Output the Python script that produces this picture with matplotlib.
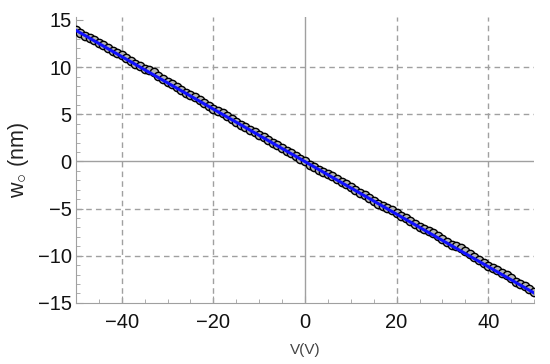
import numpy as np
import matplotlib
matplotlib.use("Agg")
import matplotlib.pyplot as plt

plt.rcParams['font.family'] = ['Liberation Sans', 'DejaVu Sans']

# measured points
volts = list(range(-50, 51))
w0 = [13.95, 13.6, 13.3, 13.1, 12.85, 12.6, 12.35, 12.0, 11.7, 11.5,
      11.25, 10.95, 10.6, 10.35, 10.1, 9.8, 9.65, 9.45, 9.05, 8.75,
      8.45, 8.2, 7.9, 7.6, 7.3, 7.05, 6.8, 6.5, 6.2, 5.9,
      5.55, 5.3, 5.1, 4.8, 4.5, 4.2, 3.9, 3.65, 3.35, 3.1,
      2.8, 2.55, 2.3, 1.95, 1.7, 1.45, 1.15, 0.85, 0.6, 0.3,
      0.0,
      -0.35, -0.6, -0.9, -1.15, -1.3, -1.5, -1.85, -2.15, -2.4, -2.75,
      -3.05, -3.3, -3.55, -3.9, -4.2, -4.5, -4.7, -4.95, -5.2, -5.45,
      -5.75, -6.0, -6.3, -6.6, -6.95, -7.15, -7.35, -7.6, -7.9, -8.25,
      -8.5, -8.85, -9.0, -9.2, -9.5, -9.8, -10.15, -10.5, -10.8, -11.05,
      -11.3, -11.5, -11.8, -12.1, -12.4, -12.75, -13.0, -13.2, -13.5, -13.9]

# linear fit ends
fit_v = [-50, 50]
fit_w = [13.9, -13.95]

xticks = [-40, -20, 0, 20, 40]
yticks = [-15, -10, -5, 0, 5, 10, 15]

fig = plt.figure(figsize=(5.5, 3.64), dpi=100)
ax = fig.add_axes([0.138, 0.168, 0.833, 0.785])

gc = '#a0a0a0'
for x in xticks:
    if x != 0:
        ax.axvline(x, color=gc, ls=(0, (4, 3)), lw=1, zorder=0)
for y in yticks:
    if y not in (0, -15, 15):
        ax.axhline(y, color=gc, ls=(0, (4, 3)), lw=1, zorder=0)
ax.axvline(0, color=gc, lw=1, zorder=0)
ax.axhline(0, color=gc, lw=1, zorder=0)

ax.plot(volts, w0, '-', color='black', lw=1.2, zorder=2)
ax.plot(volts, w0, 'o', ms=6, mfc='#b4b4b4', mec='black', mew=1.0, zorder=3)
ax.plot(fit_v, fit_w, '-', color='#1010ff', lw=2.2, zorder=4)

ax.set_xlim(-50, 50)
ax.set_ylim(-15, 15.3)
ax.set_xticks(xticks)
ax.set_yticks(yticks)
ax.set_xticks(np.arange(-50, 51, 5), minor=True)
ax.set_yticks(np.arange(-15, 16, 1), minor=True)
ax.set_xticklabels(['\u221240', '\u221220', '0', '20', '40'])
ax.set_yticklabels(['\u221215', '\u221210', '\u22125', '0', '5', '10', '15'])

for s in ['top', 'right']:
    ax.spines[s].set_visible(False)
for s in ['left', 'bottom']:
    ax.spines[s].set_color(gc)
ax.tick_params(which='major', direction='in', length=5, color=gc, labelsize=14.5,
               labelcolor='#111111')
ax.tick_params(axis='x', which='major', pad=7)
ax.tick_params(axis='y', which='major', pad=3)
ax.tick_params(which='minor', direction='in', length=3, color=gc)

ax.set_xlabel('V(V)', fontsize=11, color='#444444', labelpad=8)
ax.set_ylabel(r'$\mathregular{w_{\bigcirc}}$ (nm)', fontsize=15.5, color='#222222', labelpad=5)

fig.savefig('out.png', dpi=100)
